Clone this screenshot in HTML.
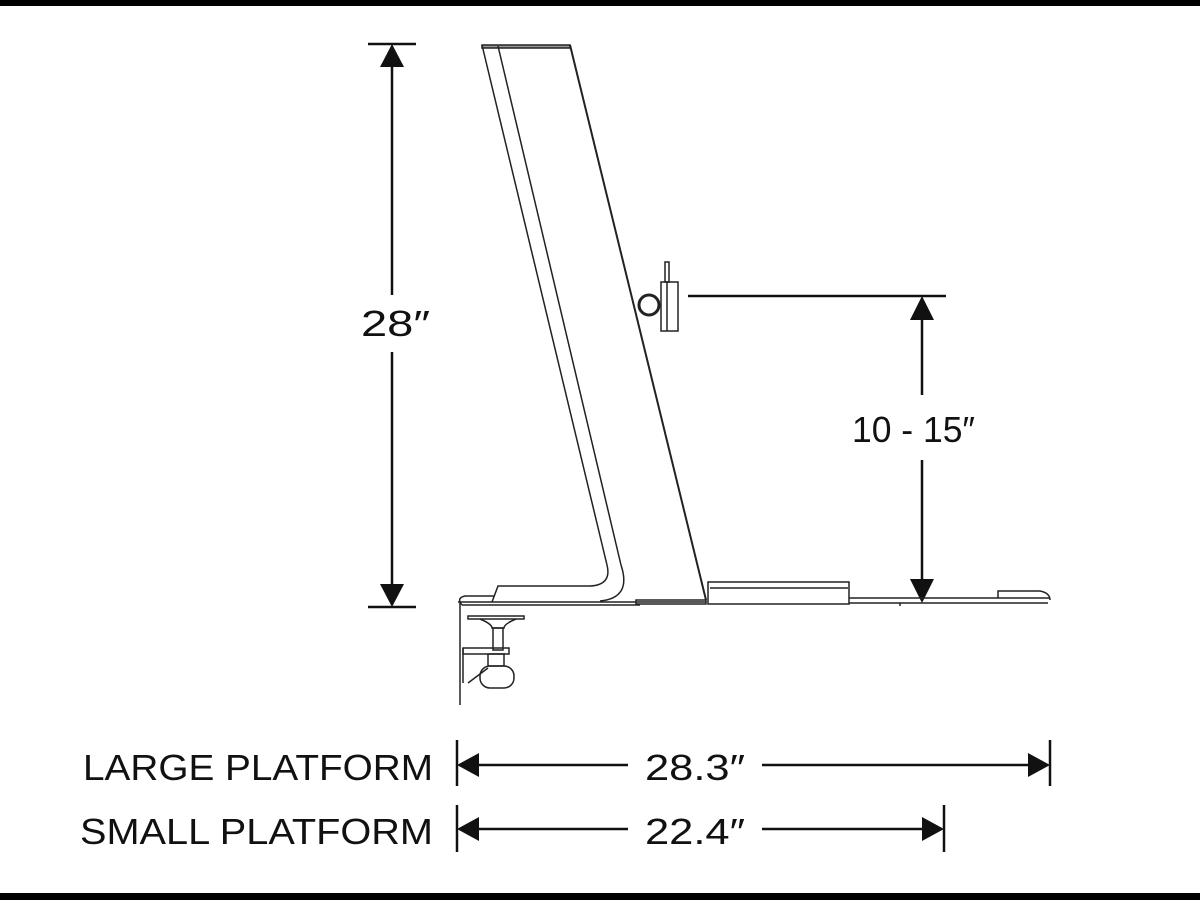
<!DOCTYPE html>
<html><head><style>
body{margin:0;width:1200px;height:900px;background:#fff;overflow:hidden}
text{font-family:"Liberation Sans",sans-serif;fill:#111}
</style></head><body>
<svg width="1200" height="900" viewBox="0 0 1200 900">
<rect x="0" y="0" width="1200" height="6" fill="#000"/>
<rect x="0" y="893" width="1200" height="7" fill="#000"/>
<g stroke="#111" stroke-width="2.5" fill="none">
<line x1="368" y1="44" x2="416" y2="44"/>
<line x1="368" y1="607" x2="416" y2="607"/>
<line x1="392" y1="60" x2="392" y2="295"/>
<line x1="392" y1="352" x2="392" y2="590"/>
<line x1="688" y1="296" x2="946" y2="296"/>
<line x1="922" y1="310" x2="922" y2="395"/>
<line x1="922" y1="460" x2="922" y2="580"/>
<line x1="457" y1="740" x2="457" y2="786"/>
<line x1="1050" y1="740" x2="1050" y2="786"/>
<line x1="470" y1="765" x2="628" y2="765"/>
<line x1="762" y1="765" x2="1035" y2="765"/>
<line x1="457" y1="805" x2="457" y2="852"/>
<line x1="944" y1="805" x2="944" y2="852"/>
<line x1="470" y1="829" x2="628" y2="829"/>
<line x1="762" y1="829" x2="930" y2="829"/>
</g>
<g fill="#111">
<polygon points="392,44 380,67 404,67"/>
<polygon points="392,607 380,584 404,584"/>
<polygon points="922,296 910,320 934,320"/>
<polygon points="922,603 910,579 934,579"/>
<polygon points="457,765 479,753 479,777"/>
<polygon points="1050,765 1028,753 1028,777"/>
<polygon points="457,829 479,817 479,841"/>
<polygon points="944,829 922,817 922,841"/>
</g>
<text x="361" y="336" font-size="36" textLength="69" lengthAdjust="spacingAndGlyphs">28″</text>
<text x="852" y="442" font-size="36" textLength="123" lengthAdjust="spacingAndGlyphs">10 - 15″</text>
<text x="83" y="780" font-size="36" textLength="350" lengthAdjust="spacingAndGlyphs">LARGE PLATFORM</text>
<text x="80" y="844" font-size="36" textLength="353" lengthAdjust="spacingAndGlyphs">SMALL PLATFORM</text>
<text x="645" y="780" font-size="36" textLength="100" lengthAdjust="spacingAndGlyphs">28.3″</text>
<text x="645" y="844" font-size="36" textLength="100" lengthAdjust="spacingAndGlyphs">22.4″</text>
<g stroke="#222" stroke-width="1.5" fill="none">
<rect x="482" y="45" width="88" height="3" fill="#999"/>
<line x1="482" y1="45" x2="607" y2="565"/>
<line x1="498" y1="46" x2="621" y2="565"/>
<path d="M607,565 Q612,585 590,586 L498,586 L492,602"/>
<path d="M621,565 Q632,598 600,601"/>
<line x1="570" y1="45" x2="706" y2="600" stroke-width="2"/>
<line x1="458" y1="602" x2="706" y2="602"/>
<line x1="462" y1="605" x2="640" y2="605"/>
<path d="M462,605 Q456,598 465,596 L494,596"/>
<rect x="636" y="600" width="70" height="4"/>
<rect x="708" y="582" width="141" height="22"/>
<line x1="710" y1="588" x2="848" y2="588"/>
<line x1="849" y1="598" x2="1050" y2="598"/>
<line x1="849" y1="603" x2="1048" y2="603"/>
<path d="M998,598 L998,591 L1040,591 Q1050,593 1050,600"/>
<line x1="900" y1="603" x2="900" y2="606"/>
<line x1="460" y1="602" x2="460" y2="705"/>
<rect x="468" y="616" width="56" height="3"/>
<path d="M480,619 Q492,624 492,628 L504,628 Q504,624 516,619"/>
<rect x="493" y="628" width="10" height="22"/>
<rect x="463" y="648" width="46" height="6"/>
<rect x="488" y="654" width="16" height="12"/>
<rect x="480" y="666" width="34" height="22" rx="10"/>
<line x1="463" y1="648" x2="463" y2="683"/>
<line x1="468" y1="683" x2="488" y2="668"/>
<rect x="661" y="282" width="17" height="49" fill="#fff"/>
<line x1="667" y1="282" x2="667" y2="331"/>
<rect x="665" y="262" width="4" height="20"/>
<circle cx="649" cy="305" r="10" stroke-width="3"/>
</g>
</svg>
</body></html>
